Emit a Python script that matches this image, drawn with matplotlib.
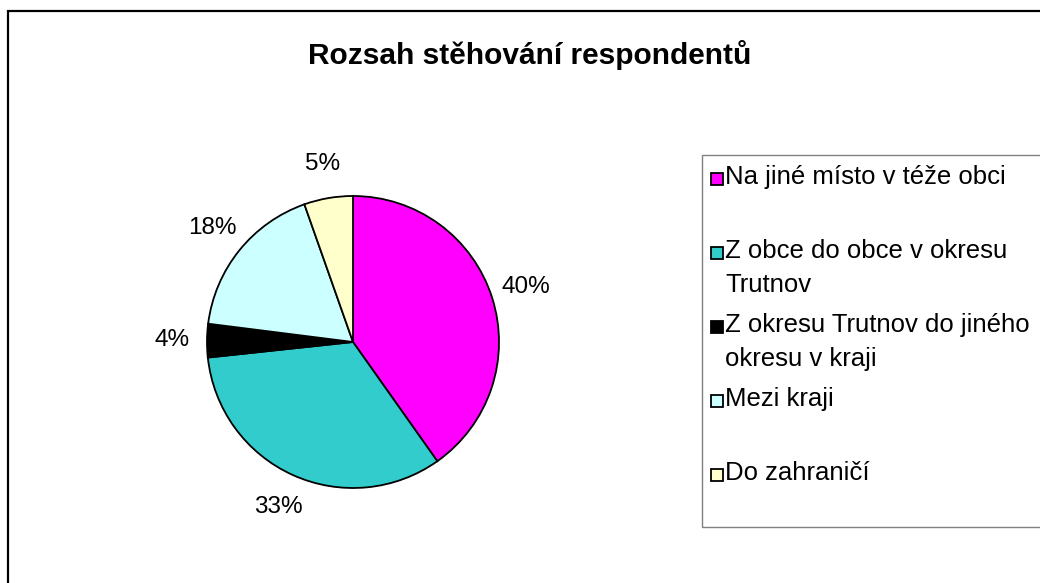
import matplotlib.pyplot as plt
from matplotlib.patches import Rectangle

plt.rcParams['font.family'] = ['Liberation Sans', 'DejaVu Sans']

# data
title = 'Rozsah stěhování respondentů'
categories = ['Na jiné místo v téže obci',
              'Z obce do obce v okresu\nTrutnov',
              'Z okresu Trutnov do jiného\nokresu v kraji',
              'Mezi kraji',
              'Do zahraničí']
shares = [40.2, 33.1, 3.7, 17.6, 5.4]
colors = ['#FF00FF', '#33CCCC', '#000000', '#CCFFFF', '#FFFFCC']

W, H = 1040, 583
fig = plt.figure(figsize=(W / 100, H / 100), dpi=100)


def fx(px):
    return px / W


def fy(py):
    return 1 - py / H


# outer frame (runs off the right and bottom edge like the original)
fig.patches.append(Rectangle((fx(8), -0.1), 1.2, fy(11) + 0.1, transform=fig.transFigure,
                             fill=False, ec='black', lw=1.6))

fig.text(fx(530), fy(55), title, ha='center', va='center', fontsize=21.5, fontweight='bold')

# pie
cx, cy, r = 353, 342, 146
ax = fig.add_axes([fx(cx - r), fy(cy + r), 2 * r / W, 2 * r / H])
ax.pie(shares, colors=colors, startangle=90, counterclock=False, radius=1,
       autopct='%.0f%%', pctdistance=1.24,
       wedgeprops=dict(edgecolor='black', linewidth=1.3),
       textprops=dict(fontsize=17.5, color='black'))
ax.set_xlim(-1, 1)
ax.set_ylim(-1, 1)
ax.axis('off')

# legend box
fig.patches.append(Rectangle((fx(702), fy(527)), 1.0, fy(155) - fy(527), transform=fig.transFigure,
                             fill=False, ec='#808080', lw=1))
for i, (lab, col) in enumerate(zip(categories, colors)):
    y = 177 + 74 * i
    fig.patches.append(Rectangle((fx(711), fy(y + 8)), 12 / W, 12 / H, transform=fig.transFigure,
                                 fc=col, ec='black', lw=1.3))
    fig.text(fx(725), fy(y - 12), lab, ha='left', va='top', fontsize=18.5, linespacing=1.52)

fig.savefig('out.png', dpi=100)
